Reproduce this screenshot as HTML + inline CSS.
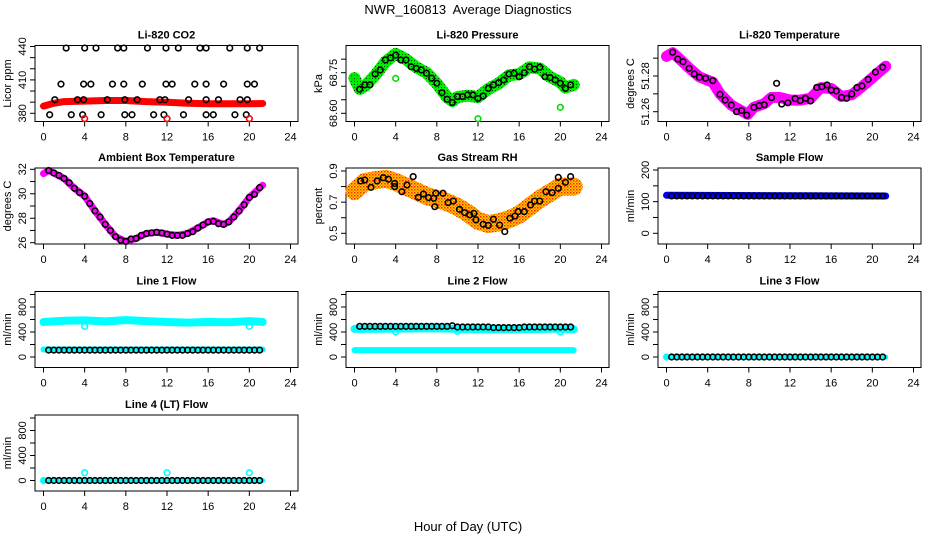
<!DOCTYPE html>
<html><head><meta charset="utf-8"><style>
html,body{margin:0;padding:0;background:#fff;}
svg{display:block;font-family:"Liberation Sans",Arial,sans-serif;}
</style></head><body>
<svg id="chart" width="936" height="540" viewBox="0 0 936 540" xmlns="http://www.w3.org/2000/svg">
<defs>
<pattern id="patRH" width="3" height="3" patternUnits="userSpaceOnUse"><rect width="3" height="3" fill="#ffd000"/><rect width="1.5" height="1.5" fill="#ff2000"/><rect x="1.5" y="1.5" width="1.5" height="1.5" fill="#ff8000"/></pattern>
<pattern id="patP" width="3" height="3" patternUnits="userSpaceOnUse"><rect width="3" height="3" fill="#00ee00"/><rect width="1" height="1" fill="#004400"/></pattern>
</defs>
<text x="468" y="14" text-anchor="middle" font-size="13" style="white-space:pre">NWR_160813  Average Diagnostics</text>
<text x="468" y="531" text-anchor="middle" font-size="13">Hour of Day (UTC)</text>
</svg>
<script>
// ---- data ----
const xTicks = [0,4,8,12,16,20,24];
const co2BandHours = [0,1,2,4,6,8,10,12,14,16,18,20,21.3];
const co2BandVals = [386.5,389,390.5,391,391.5,391.5,390.5,390,389,388.5,388.5,388.5,388.8];
const co2Hours = [2.2,4,5.1,7.2,7.8,10.1,11.9,13.1,15.2,15.8,18.1,19.8,21,
 1.7,3.9,4.6,6.7,7.8,9.6,11.9,12.5,14.7,15.8,17.5,19.8,20.5,
 1.1,3.3,3.9,6.2,7.9,9.1,11.3,11.8,14.1,15.8,17,19.1,19.8,
 0.6,2.7,3.8,5.6,7.9,8.6,10.7,11.7,13.6,15.8,16.5,18.6,19.7];
const co2Vals = [438.6,438.6,438.6,438.6,438.6,438.6,438.6,438.6,438.6,438.6,438.6,438.6,438.6,
 406.2,406.2,406.2,406.2,406.2,406.2,406.2,406.2,406.2,406.2,406.2,406.2,406.2,
 392.2,392.2,392.2,392.2,392.2,392.2,392.2,392.2,392.2,392.2,392.2,392.2,392.2,
 378.7,378.7,378.7,378.7,378.7,378.7,378.7,378.7,378.7,378.7,378.7,378.7,378.7];
const co2OutHours = [4,12,20];
const co2OutVals = [375.2,375.2,375.2];

const halfHours = [0.5,1,1.5,2,2.5,3,3.5,4,4.5,5,5.5,6,6.5,7,7.5,8,8.5,9,9.5,10,10.5,11,11.5,12,12.5,13,13.5,14,14.5,15,15.5,16,16.5,17,17.5,18,18.5,19,19.5,20,20.5,21];
const presVals = [68.689,68.705,68.705,68.745,68.76,68.797,68.805,68.815,68.797,68.797,68.772,68.766,68.76,68.748,68.73,68.711,68.676,68.652,68.64,68.662,68.662,68.668,68.668,68.655,68.664,68.692,68.705,68.713,68.723,68.745,68.748,68.735,68.75,68.772,68.763,68.77,68.735,68.732,68.723,68.711,68.692,68.705];
const presBandHours = [0,0.5,1,2,3,4,5,6,7,8,9,9.5,10,11,12,13,14,15,16,17,18,19,20,20.5,21.3];
const presBandVals = [68.73,68.69,68.70,68.74,68.79,68.82,68.80,68.77,68.75,68.71,68.66,68.645,68.66,68.665,68.66,68.69,68.71,68.74,68.745,68.77,68.765,68.735,68.715,68.695,68.705];
const presOutHours = [0,4,12,20];
const presOutVals = [68.732,68.729,68.58,68.622];

const tempHours = [0.6,1.1,1.6,2.2,2.7,3.2,3.8,4.5,5.2,5.7,6.3,6.8,7.3,7.8,8.5,9,9.5,10.2,10.7,11.2,11.8,12.5,13,13.5,14,14.6,15.1,15.6,16,16.5,17,17.5,18,18.5,19,19.6,20.3,21];
const tempVals = [51.2933,51.2895,51.288,51.2843,51.2811,51.2793,51.2787,51.2774,51.2697,51.2665,51.2637,51.26,51.2607,51.2581,51.2624,51.2634,51.2639,51.2679,51.2759,51.2643,51.265,51.2673,51.2662,51.2675,51.266,51.2736,51.274,51.275,51.2721,51.2716,51.268,51.2675,51.2699,51.2735,51.2744,51.2781,51.2822,51.2849];
const tempBandHours = [0,0.6,1.1,2.2,3.2,4.5,5.2,6.3,7.3,7.9,8.5,9.5,10.2,11,12,13,14,15,16,17,18,19,20,21.3];
const tempBandVals = [51.291,51.293,51.2905,51.2845,51.2795,51.2765,51.27,51.2637,51.2605,51.2585,51.2625,51.2645,51.268,51.268,51.2665,51.2665,51.2675,51.2735,51.273,51.2685,51.2695,51.274,51.279,51.2855];

const ambVals = [31.9,31.7,31.5,31.25,30.9,30.45,30.1,29.8,29.2,28.6,28.1,27.5,27.0,26.5,26.2,26.1,26.3,26.35,26.6,26.75,26.8,26.85,26.8,26.7,26.6,26.6,26.6,26.75,26.9,27.2,27.45,27.7,27.75,27.55,27.5,27.7,28.1,28.6,29.1,29.7,29.95,30.5];
const ambBandHours = [0,0.5,1,2,3,4,5,6,7,8,9,10,11,12,13,14,15,16,16.5,17.5,18,19,20,21.3];
const ambBandVals = [31.65,31.9,31.7,31.25,30.45,29.8,28.6,27.5,26.5,26.1,26.35,26.75,26.85,26.7,26.6,26.75,27.2,27.7,27.8,27.5,27.7,28.6,29.7,30.7];

const rhHours = [0.6,1,1.6,2.2,2.8,3.3,3.9,3.9,4.6,5.1,5.7,6.2,6.7,7.2,7.7,7.8,7.9,8.6,9.1,9.6,10.2,10.7,11.2,11.6,11.8,12.5,13,13.5,14.1,14.6,15.1,15.6,15.9,16.5,17.1,17.5,18,18.6,19.2,19.8,19.8,20.5,21];
const rhVals = [0.836,0.842,0.795,0.836,0.857,0.847,0.82,0.80,0.767,0.81,0.864,0.731,0.752,0.729,0.725,0.671,0.757,0.757,0.697,0.707,0.654,0.633,0.618,0.628,0.586,0.558,0.551,0.59,0.553,0.511,0.597,0.611,0.639,0.639,0.682,0.707,0.707,0.767,0.761,0.789,0.859,0.827,0.864];
const rhBandHours = [0,1,2,3,4,5,6,7,8,9,10,11,12,13,14,15,16,17,18,19,20,21.3];
const rhBandVals = [0.77,0.83,0.84,0.85,0.83,0.80,0.77,0.74,0.72,0.70,0.67,0.63,0.58,0.56,0.57,0.59,0.62,0.67,0.72,0.76,0.80,0.80];

const sampleVals = [118,118,118,118,118,118,118,118,118,118,118,118,118,118,118,118,118,118,118,118,118,118,118,118,118,118,118,118,118,118,118,118,118,118,118,118,118,118,118,118,118,118];
const sampleBandHours = [0,21.3];
const sampleBandVals = [120,118];

const line1Vals = [110,110,110,110,110,110,110,110,110,110,110,110,110,110,110,110,110,110,110,110,110,110,110,110,110,110,110,110,110,110,110,110,110,110,110,110,110,110,110,110,110,110];
const line1UpHours = [0,2,4,6,8,10,12,14,16,18,20,21.3];
const line1UpVals = [560,580,585,570,590,575,560,550,560,555,575,560];
const line1LowHours = [0,21.3];
const line1LowVals = [120,120];
const line1OutHours = [4,20];
const line1OutVals = [490,490];

const line2Vals = [490,490,490,490,490,490,490,490,490,490,490,490,490,490,490,490,490,490,500,480,480,480,480,480,480,480,470,470,470,470,470,470,480,480,480,480,480,480,480,480,480,480];
const line2UpHours = [0,4,8,10,12,16,20,21.3];
const line2UpVals = [450,455,460,450,445,445,455,445];
const line2LowHours = [0,21.3];
const line2LowVals = [110,110];
const line2OutHours = [4,10,20];
const line2OutVals = [400,410,400];

const line3Vals = [0,0,0,0,0,0,0,0,0,0,0,0,0,0,0,0,0,0,0,0,0,0,0,0,0,0,0,0,0,0,0,0,0,0,0,0,0,0,0,0,0,0];
const line3BandHours = [0,21.3];
const line3BandVals = [0,0];
const line3OutHours = [0];
const line3OutVals = [0];

const line4Vals = [0,0,0,0,0,0,0,0,0,0,0,0,0,0,0,0,0,0,0,0,0,0,0,0,0,0,0,0,0,0,0,0,0,0,0,0,0,0,0,0,0,0];
const line4BandHours = [0,21.3];
const line4BandVals = [0,0];
const line4OutHours = [0,4,12,20];
const line4OutVals = [0,125,125,125];

// y tick values / labels per panel
const co2Ticks = [380,390,400,410,420,430,440];
const co2Labels = [380,410,440];
const presTicks = [68.60,68.65,68.70,68.75,68.80];
const presLabels = ["68.60","68.75"];
const tempTicks = [51.26,51.27,51.28,51.29];
const tempLabels = ["51.26","51.28"];
const ambTicks = [26,27,28,29,30,31,32];
const ambLabels = [26,28,30,32];
const rhTicks = [0.5,0.6,0.7,0.8,0.9];
const rhLabels = ["0.5","0.7","0.9"];
const sampleTicks = [0,50,100,150,200];
const sampleLabels = [0,100,200];
const flowTicks = [0,200,400,600,800,1000];
const flowLabels = [0,400,800];

// ---- layout ----
const NS = "http://www.w3.org/2000/svg";
const svg = document.getElementById("chart");
const colLeft = [35,346,658];
const rowTop = [45.5,168,291.5,415];
const boxW = 263, boxH = 76;

function el(tag, attrs, parent){
  const e = document.createElementNS(NS, tag);
  for (const k in attrs) e.setAttribute(k, attrs[k]);
  (parent||svg).appendChild(e);
  return e;
}

const panels = [
 {key:"co2", title:"Li-820 CO2", ylab:"Licor ppm", col:0,row:0, ref:[440,1.0,380,67.8], ticks:co2Ticks, labels:co2Labels},
 {key:"pressure", title:"Li-820 Pressure", ylab:"kPa", col:1,row:0, ref:[68.75,27.2,68.60,67.8], ticks:presTicks, labels:presLabels},
 {key:"temperature", title:"Li-820 Temperature", ylab:"degrees C", col:2,row:0, ref:[51.28,30.5,51.26,66.2], ticks:tempTicks, labels:tempLabels},
 {key:"ambient", title:"Ambient Box Temperature", ylab:"degrees C", col:0,row:1, ref:[32,1.3,26,74.7], ticks:ambTicks, labels:ambLabels},
 {key:"rh", title:"Gas Stream RH", ylab:"percent", col:1,row:1, ref:[0.9,3,0.5,65.3], ticks:rhTicks, labels:rhLabels},
 {key:"sample-flow", title:"Sample Flow", ylab:"ml/min", col:2,row:1, ref:[200,2,0,65.3], ticks:sampleTicks, labels:sampleLabels},
 {key:"line1", title:"Line 1 Flow", ylab:"ml/min", col:0,row:2, ref:[800,15.5,0,65.5], ticks:flowTicks, labels:flowLabels},
 {key:"line2", title:"Line 2 Flow", ylab:"ml/min", col:1,row:2, ref:[800,15.5,0,65.5], ticks:flowTicks, labels:flowLabels},
 {key:"line3", title:"Line 3 Flow", ylab:"ml/min", col:2,row:2, ref:[800,15.5,0,65.5], ticks:flowTicks, labels:flowLabels},
 {key:"line4", title:"Line 4 (LT) Flow", ylab:"ml/min", col:0,row:3, ref:[800,15.5,0,65.5], ticks:flowTicks, labels:flowLabels}
];

panels.forEach(p=>{
  const L = colLeft[p.col], T = rowTop[p.row];
  p.g = el("g",{});
  
  
  p.x = h => L + 8.5 + h*(247/24);
  const r = p.ref;
  p.y = v => T + r[1] + (v - r[0])*(r[3]-r[1])/(r[2]-r[0]);
  const t = el("text",{x:L+boxW/2, y:T-7, "text-anchor":"middle","font-size":"11","font-weight":"bold"}, p.g);
  t.textContent = p.title;
  
  
  const box = el("rect",{x:L,y:T,width:boxW,height:boxH,fill:"none",stroke:"#000","stroke-width":1}, p.g);
  
  
  const xa = el("g",{}, p.g);
  
  
  xTicks.forEach(v=>{
    const X = p.x(v);
    el("line",{x1:X,x2:X,y1:T+boxH,y2:T+boxH+5,stroke:"#000"}, xa);
    const lt = el("text",{x:X,y:T+boxH+19,"text-anchor":"middle","font-size":"11"}, xa);
    lt.textContent = v;
  });
  const ya = el("g",{}, p.g);
  
  
  p.ticks.forEach(v=>{
    const Y = p.y(v);
    el("line",{x1:L-5,x2:L,y1:Y,y2:Y,stroke:"#000"}, ya);
  });
  p.labels.forEach(v=>{
    const Y = p.y(+v);
    const lt = el("text",{x:0,y:0,"text-anchor":"middle","font-size":"11",transform:`translate(${L-9},${Y}) rotate(-90)`}, ya);
    lt.textContent = v;
  });
  const yl = el("text",{x:0,y:0,"text-anchor":"middle","font-size":"11",transform:`translate(${L-24},${T+boxH/2}) rotate(-90)`}, p.g);
  yl.textContent = p.ylab;
  
  
});

function band(pi, hours, vals, stroke, width, name){
  const p = panels[pi];
  const d = hours.map((h,i)=>(i?"L":"M")+p.x(h).toFixed(1)+","+p.y(vals[i]).toFixed(1)).join(" ");
  const e = el("path",{d:d,fill:"none",stroke:stroke,"stroke-width":width,"stroke-linejoin":"round","stroke-linecap":"round"}, p.g);
  
  
}
function circles(pi, hours, vals, color, name, r){
  const p = panels[pi];
  const g = el("g",{}, p.g);
  
  
  hours.forEach((h,i)=>{
    const c = el("circle",{cx:p.x(h),cy:p.y(vals[i]),r:r||2.8,fill:"none",stroke:color,"stroke-width":1.6}, g);
    
    
  });
}

band(0, co2BandHours, co2BandVals, "#ff0000", 7, "co2-cloud");
circles(0, co2Hours, co2Vals, "#000", "co2-averages");
circles(0, co2OutHours, co2OutVals, "#ff0000", "co2-outliers");
band(1, presBandHours, presBandVals, "url(#patP)", 12, "pressure-cloud");
circles(1, halfHours, presVals, "#000", "pressure-averages");
circles(1, presOutHours, presOutVals, "#00dd00", "pressure-outliers");
band(2, tempBandHours, tempBandVals, "#ff00ff", 11, "temperature-cloud");
circles(2, tempHours, tempVals, "#000", "temperature-averages");
band(3, ambBandHours, ambBandVals, "#ff00ff", 7, "ambient-cloud");
circles(3, halfHours, ambVals, "#000", "ambient-averages");
band(4, rhBandHours, rhBandVals, "url(#patRH)", 18, "rh-cloud");
circles(4, rhHours, rhVals, "#000", "rh-averages");
band(5, sampleBandHours, sampleBandVals, "#0000ee", 7, "sample-flow-cloud");
circles(5, halfHours, sampleVals, "#000", "sample-flow-averages");
band(6, line1UpHours, line1UpVals, "#00ffff", 8, "line1-cloud-upper");
band(6, line1LowHours, line1LowVals, "#00ffff", 6, "line1-cloud-lower");
circles(6, line1OutHours, line1OutVals, "#00ffff", "line1-outliers");
circles(6, halfHours, line1Vals, "#000", "line1-averages");
band(7, line2UpHours, line2UpVals, "#00ffff", 8, "line2-cloud-upper");
band(7, line2LowHours, line2LowVals, "#00ffff", 6, "line2-cloud-lower");
circles(7, line2OutHours, line2OutVals, "#00ffff", "line2-outliers");
circles(7, halfHours, line2Vals, "#000", "line2-averages");
band(8, line3BandHours, line3BandVals, "#00ffff", 5, "line3-cloud");
circles(8, line3OutHours, line3OutVals, "#00ffff", "line3-outliers");
circles(8, halfHours, line3Vals, "#000", "line3-averages");
band(9, line4BandHours, line4BandVals, "#00ffff", 5, "line4-cloud");
circles(9, line4OutHours, line4OutVals, "#00ffff", "line4-outliers");
circles(9, halfHours, line4Vals, "#000", "line4-averages");
</script>
</body></html>
